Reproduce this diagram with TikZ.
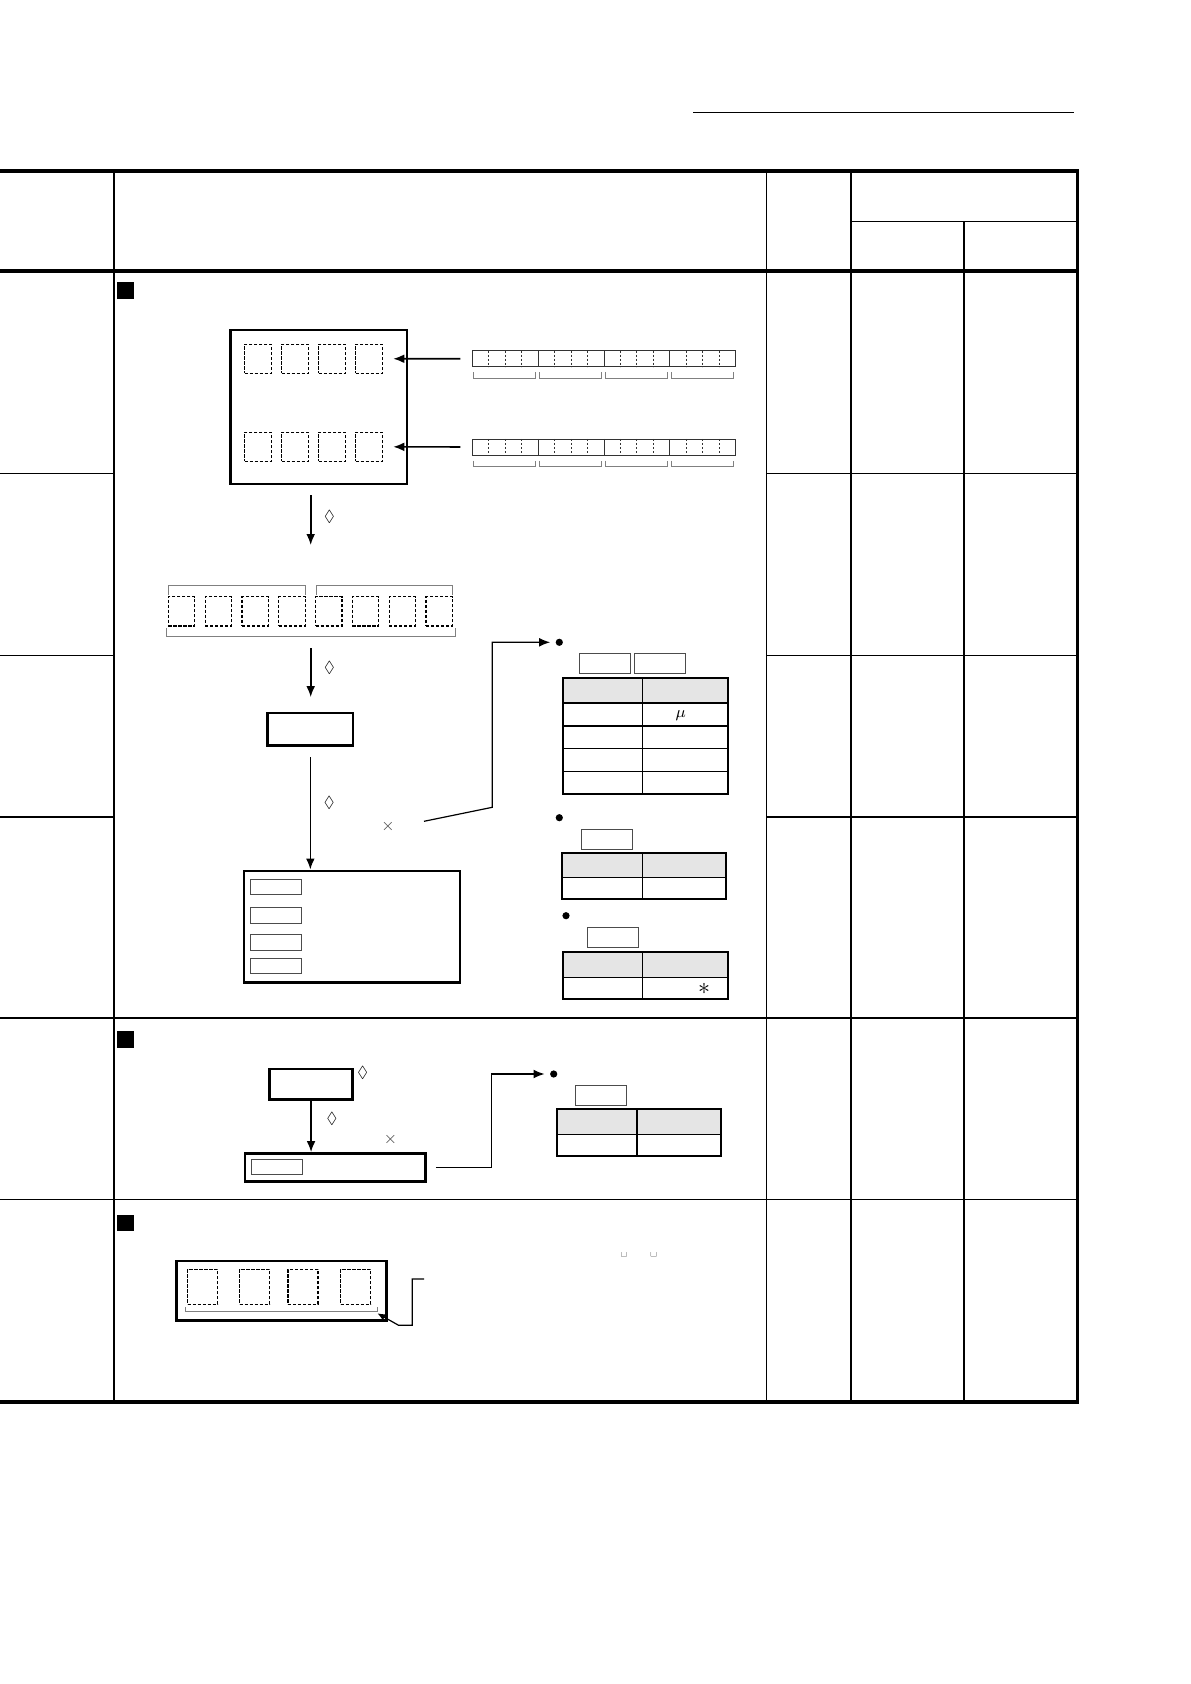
\documentclass[tikz,border=0pt]{standalone}
\usepackage{amssymb}
\usetikzlibrary{arrows.meta,fit}
\newcommand{\regstrip}[2]{%
  \node[fit={(472.5,#2) (735.5,#2+16)},draw=black!80,line width=0.45pt,inner sep=0] (#1) {};
  \foreach \i in {4,8,12} \draw[black!80,line width=0.45pt] (472.5+\i*16.4375,#2) -- ++(0,16);
  \foreach \i in {1,2,3,5,6,7,9,10,11,13,14,15}
    \draw[black!80,line width=0.45pt,dash pattern=on 1.2pt off 0.8pt] (472.5+\i*16.4375,#2) -- ++(0,16);
  \foreach \g in {0,1,2,3}
    \draw[gray,line width=0.45pt] (473.7+\g*65.75,#2+21.6) -- ++(0,6) -- ++(62,0) -- ++(0,-6);
}

\begin{document}
\begin{tikzpicture}[x=0.5pt,y=-0.5pt,>=Latex,
  frame/.style={draw,line width=1.2pt,inner sep=0},
  dbox/.style={draw,line width=0.6pt,dash pattern=on 1.6pt off 0.9pt,inner sep=0,minimum width=13.4pt,minimum height=14.6pt},
  lbox/.style={draw=black!70,line width=0.5pt,inner sep=0},
  arr/.style={-{Latex[length=5.5pt,width=4.4pt]},line width=0.8pt},
  sym/.style={font=\fontsize{8}{8}\selectfont,inner sep=0},
  dot/.style={circle,fill,inner sep=0,minimum size=3.6pt},
  tag/.style={fill,inner sep=0,minimum width=8.4pt,minimum height=8.3pt}]
  \useasboundingbox (0,0) rectangle (1190,1684);

  \draw[line width=0.7pt] (693,112.8) -- (1074,112.8);
  \draw[line width=1.6pt] (0,171) -- (1077.5,171) -- (1077.5,1402) -- (0,1402);
  \draw[line width=1.6pt] (0,271) -- (1077.5,271);
  \foreach \x in {113.8,766.3,850.8} \draw[line width=0.8pt] (\x,171) -- (\x,1402);
  \draw[line width=0.8pt] (964,221.7) -- (964,1402);
  \draw[line width=0.8pt] (850.8,221.7) -- (1077.5,221.7);
  \foreach \y in {473.6,655.5} {
    \draw[line width=0.7pt] (0,\y) -- (113.8,\y);
    \draw[line width=0.7pt] (766.3,\y) -- (1077.5,\y);
  }
  \draw[line width=0.9pt] (0,817) -- (113.8,817);
  \draw[line width=0.9pt] (766.3,817) -- (1077.5,817);
  \foreach \y in {1018,1199.6} \draw[line width=0.75pt] (0,\y) -- (1077.5,\y);

  \node[tag] (m1) at (125.4,290.6) {};
  \node[tag] (m2) at (125.4,1039.5) {};
  \node[tag] (m3) at (125.4,1223) {};

  \node[frame,fit={(230.5,330) (407.2,484)}] (memblk) {};
  \foreach \i in {1,...,4} {
    \node[dbox] (dA\i) at (257.9+37*\i-37,358.8) {};
    \node[dbox] (dB\i) at (257.9+37*\i-37,446.8) {};
  }
  \regstrip{regA}{350.7}
  \regstrip{regB}{439}
  \draw[arr,shorten <=5.9pt,shorten >=5.2pt] (regA.west) -- (dA4.east);
  \draw[arr,shorten <=5.9pt,shorten >=5.2pt] (regB.west) -- (dB4.east);

  \coordinate (a1) at (310.7,495);
  \coordinate (a1e) at (310.7,545);
  \draw[arr] (a1) -- (a1e);
  \node[sym] (q1) at (329.5,517.3) {$\lozenge$};

  \foreach \i in {1,...,8} \node[dbox,minimum width=13.2pt] (r\i) at (181.6+36.8*\i-36.8,611.3) {};
  \draw[gray,line width=0.45pt] (168.4,595) -- (168.4,585.7) -- (305,585.7) -- (305,595);
  \draw[gray,line width=0.45pt] (316.5,595) -- (316.5,585.7) -- (452.3,585.7) -- (452.3,595);
  \draw[gray,line width=0.45pt] (166,628.3) -- (166,636.7) -- (455.4,636.7) -- (455.4,628.3);

  \node[frame,fit={(267.5,712.7) (353.2,745.3)}] (convbox) {};
  \coordinate (a2) at (310.7,648.3);
  \draw[arr,shorten >=7.2pt] (a2) -- (a2 |- convbox.north);
  \node[sym] (q2) at (329.5,668.3) {$\lozenge$};

  \node[frame,fit={(244,870.7) (460,982.3)}] (outbox) {};
  \draw[arr,shorten <=5.3pt] (convbox.south) -- (convbox.south |- outbox.north);
  \node[sym] (q3) at (329.3,802.7) {$\lozenge$};
  \node[sym,text=black!70] (x1) at (388,826) {$\times$};
  \node[lbox,fit={(250,879.3) (301.3,894.3)}] (ob1) {};
  \node[lbox,fit={(250,907.3) (301.3,923.3)}] (ob2) {};
  \node[lbox,fit={(250,934.7) (301.3,950.3)}] (ob3) {};
  \node[lbox,fit={(250,958.3) (301.3,973.7)}] (ob4) {};

  \node[dot] (dot1) at (559.3,642.3) {};
  \coordinate (k1) at (424,821.3);
  \draw[arr,line width=0.6pt,shorten >=2.6pt] (k1) -- (492.3,807.3) |- (dot1);
  \node[lbox,fit={(579.3,653.7) (630.7,673)}] (lab1a) {};
  \node[lbox,fit={(634.3,653.7) (685.7,673)}] (lab1b) {};
  \fill[gray!20] (563.3,677.7) rectangle (727.7,703);
  \draw[line width=0.65pt] (642.7,677.7) -- (642.7,793.7);
  \foreach \y in {703,726,748.7,771.3} \draw[line width=0.65pt] (563.3,\y) -- (727.7,\y);
  \draw[line width=1pt] (563.3,677.7) rectangle (727.7,793.7);
  \node[sym] (mu) at (680.7,715.7) {$\mu$};

  \node[dot] (dot2) at (559.3,817.7) {};
  \node[lbox,fit={(581.7,829.3) (632.3,849.3)}] (lab2) {};
  \fill[gray!20] (562,853) rectangle (726,877.3);
  \draw[line width=0.65pt] (642.7,853) -- (642.7,899.3);
  \draw[line width=0.65pt] (562,877.3) -- (726,877.3);
  \draw[line width=1pt] (562,853) rectangle (726,899.3);

  \node[dot] (dot3) at (566,915.7) {};
  \node[lbox,fit={(587.7,927.3) (638.7,947.3)}] (lab3) {};
  \fill[gray!20] (562.7,952.3) rectangle (727.7,977.3);
  \draw[line width=0.65pt] (642.7,952.3) -- (642.7,999);
  \draw[line width=0.65pt] (562.7,977.3) -- (727.7,977.3);
  \draw[line width=1pt] (562.7,952.3) rectangle (727.7,999);
  \node[sym,font=\fontsize{13}{13}\selectfont] (star) at (704,988.8) {$\ast$};

  \node[frame,fit={(269.6,1069) (352.5,1099.3)}] (setbox) {};
  \node[sym] (q4) at (362.6,1072.7) {$\lozenge$};
  \node[frame,fit={(244.8,1153.3) (425.3,1181.3)}] (dispbox) {};
  \draw[arr] (setbox.south) -- (setbox.south |- dispbox.north);
  \node[sym] (q5) at (331.9,1119) {$\lozenge$};
  \node[sym,text=black!70] (x2) at (390.4,1139) {$\times$};
  \node[lbox,fit={(251.5,1159) (302.4,1174.3)}] (db1) {};
  \node[dot] (dot4) at (553.7,1074) {};
  \draw[arr,line width=0.6pt,shorten <=4.65pt,shorten >=2.6pt] (dispbox.east) -- ++(65.3,0) |- (dot4);
  \node[lbox,fit={(575.6,1085.7) (626.1,1105.7)}] (lab4) {};
  \fill[gray!20] (556.6,1109) rectangle (720.8,1134.3);
  \draw[line width=0.65pt] (637,1109) -- (637,1155.7);
  \draw[line width=0.65pt] (556.6,1134.3) -- (720.8,1134.3);
  \draw[line width=1pt] (556.6,1109) rectangle (720.8,1155.7);

  \node[frame,fit={(176.6,1260.7) (386.6,1320.3)}] (segbox) {};
  \node[dbox,minimum width=15pt,minimum height=17.5pt] (s1) at (202.6,1286.8) {};
  \node[dbox,minimum width=15pt,minimum height=17.5pt] (s2) at (254.5,1286.8) {};
  \node[dbox,minimum width=15pt,minimum height=17.5pt] (s3) at (302.9,1286.8) {};
  \node[dbox,minimum width=15pt,minimum height=17.5pt] (s4) at (355.5,1286.8) {};
  \draw[gray,line width=0.45pt] (185,1307.3) -- (185,1311) -- (377.4,1311) -- (377.4,1307.3);
  \coordinate (k3) at (424,1279);
  \coordinate (k3e) at (377.4,1313.3);
  \draw[-{Latex[length=4pt,width=3.4pt]},line width=0.6pt] (k3) -- (412.3,1279) -- (412.3,1325.3) -- (398.6,1325.3) -- (k3e);
  \node[sym,font=\fontsize{6}{6}\selectfont] (vs1) at (624,1254.3) {\textvisiblespace};
  \node[sym,font=\fontsize{6}{6}\selectfont] (vs2) at (653.9,1254.3) {\textvisiblespace};
\end{tikzpicture}
\end{document}
